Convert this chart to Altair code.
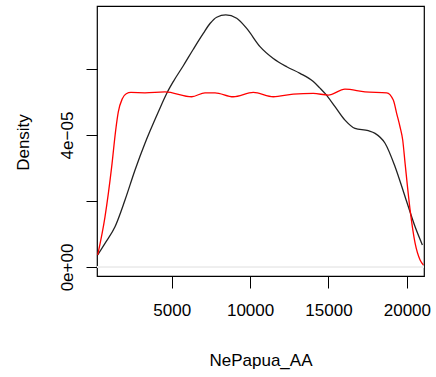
import altair as alt
import pandas as pd

# Black density curve (x, density)
black_x = [280, 746, 1384, 2022, 2662, 3297, 3616, 4145, 4681, 5102, 5740, 6378, 7015, 7443, 7870, 8450,
           9145, 9783, 10632, 11480, 12335, 13183, 14031, 14458, 14777, 15415, 16052, 16690, 17541,
           17970, 18607, 19246, 19885, 20523, 20990]
black_y = [0.364e-5, 0.718e-5, 1.22e-5, 2.03e-5, 2.94e-5, 3.75e-5, 4.12e-5, 4.70e-5, 5.26e-5, 5.62e-5,
           6.10e-5, 6.60e-5, 7.08e-5, 7.38e-5, 7.57e-5, 7.64e-5, 7.54e-5, 7.23e-5, 6.68e-5, 6.32e-5,
           6.07e-5, 5.87e-5, 5.62e-5, 5.42e-5, 5.26e-5, 4.86e-5, 4.45e-5, 4.20e-5, 4.13e-5, 4.05e-5,
           3.75e-5, 3.04e-5, 2.13e-5, 1.22e-5, 0.667e-5]

# Red density curve
red_x = [280, 746, 1173, 1429, 1595, 1850, 2100, 2400, 3297, 4573, 6276, 7124, 7762, 8929, 10205, 11480,
         12755, 14031, 14987, 16052, 17328, 18712, 19133, 19350, 19560, 19733, 19885, 20204, 20523, 20842, 21053]
red_y = [0.364e-5, 1.52e-5, 3.04e-5, 4.15e-5, 4.70e-5, 5.10e-5, 5.25e-5, 5.29e-5, 5.28e-5, 5.31e-5, 5.16e-5,
         5.28e-5, 5.28e-5, 5.16e-5, 5.29e-5, 5.16e-5, 5.24e-5, 5.26e-5, 5.21e-5, 5.39e-5, 5.31e-5,
         5.28e-5, 5.06e-5, 4.65e-5, 4.25e-5, 3.85e-5, 3.14e-5, 1.73e-5, 0.72e-5, 0.21e-5, 0.06e-5]

x_ticks = [5000, 10000, 15000, 20000]
y_ticks = [0, 2e-5, 4e-5, 6e-5]

black_df = pd.DataFrame({"x": black_x, "y": black_y})
red_df = pd.DataFrame({"x": red_x, "y": red_y})

FONT = "Liberation Sans"
xscale = alt.Scale(domain=[236, 21091], nice=False, zero=False)
yscale = alt.Scale(domain=[-2.73e-6, 7.91e-5], nice=False, zero=False)

xaxis = alt.Axis(values=x_ticks, format="d", grid=False, domain=False, tickSize=12,
                 tickColor="#000", labelFontSize=17, labelFont=FONT, labelColor="#000",
                 labelPadding=14, labelBaseline="top", title="NePapua_AA", titleFontSize=17,
                 titleFont=FONT, titleFontWeight="normal", titleColor="#000",
                 titleBaseline="alphabetic", titleX=163.5, titleY=89, labelFlush=False)
yaxis = alt.Axis(values=y_ticks, grid=False, domain=False, tickSize=11, tickColor="#000",
                 labelExpr="datum.value == 0 ? '0e+00' : (abs(datum.value - 0.00004) < 1e-9 ? '4e\u221205' : '')",
                 labelAngle=270, labelAlign="center", labelBaseline="alphabetic",
                 labelFontSize=17, labelFont=FONT, labelColor="#000", labelPadding=14,
                 title="Density", titleFontSize=17, titleFont=FONT, titleFontWeight="normal",
                 titleColor="#000", titleAngle=270, titleAlign="center", titleBaseline="alphabetic",
                 titleX=-69, titleY=136, labelFlush=False)

zero = alt.Chart(black_df).mark_rule(color="#eeeeee", strokeWidth=0.6).encode(
    y=alt.datum(0, scale=yscale, axis=yaxis)
)

black = alt.Chart(black_df).mark_line(color="#222222", strokeWidth=1.3, interpolate="monotone", clip=True).encode(
    x=alt.X("x:Q", scale=xscale, axis=xaxis),
    y=alt.Y("y:Q", scale=yscale, axis=yaxis),
)
red = alt.Chart(red_df).mark_line(color="#ff0000", strokeWidth=1.3, interpolate="monotone", clip=True).encode(
    x=alt.X("x:Q", scale=xscale, axis=xaxis),
    y=alt.Y("y:Q", scale=yscale, axis=yaxis),
)

chart = alt.layer(zero, black, red).properties(
    width=327, height=270,
    autosize=alt.AutoSizeParams(type="none"),
    padding={"left": 97, "top": 6, "right": 12, "bottom": 101},
    background="white",
).configure_view(stroke="#000000", strokeWidth=1.2)

chart.save("out.html", embed_options={"renderer": "svg", "actions": False})
